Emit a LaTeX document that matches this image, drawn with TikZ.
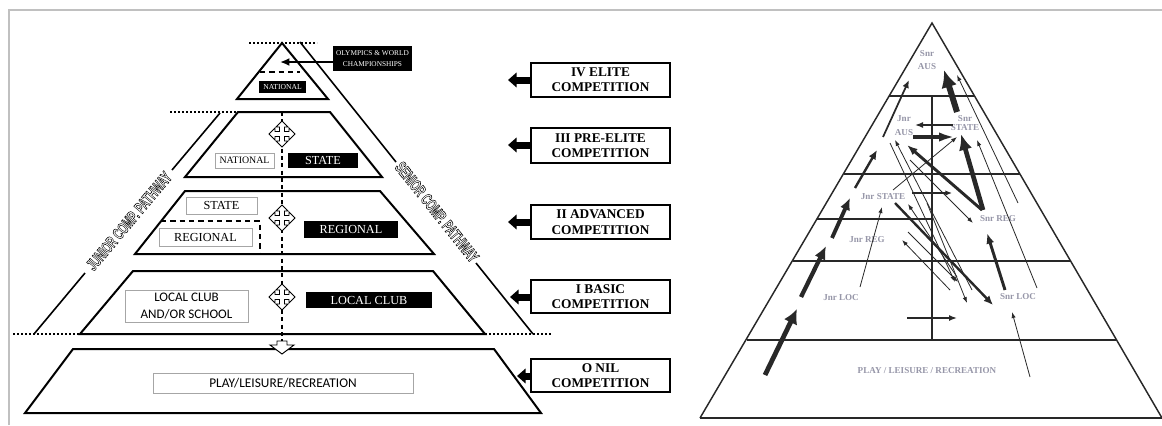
\documentclass[tikz,border=0pt]{standalone}
\usepackage{fontspec}
\usepackage{graphicx}
\setmainfont{Liberation Serif}
\newfontfamily\calib{Carlito}
\newfontfamily\arialf{Liberation Sans}
\usetikzlibrary{arrows.meta}
\definecolor{framegray}{RGB}{192,192,192}
\definecolor{lblgray}{RGB}{150,150,168}
\definecolor{rline}{RGB}{40,40,40}
\newcommand{\pathtxt}[1]{\scalebox{0.6}[1]{\arialf\bfseries\fontsize{12.5}{13}\selectfont\special{pdf:literal direct 0 G 2 Tr 0.45 w}#1\special{pdf:literal direct 0 Tr}}}
\tikzset{
  pyr/.style={line width=1.5pt, line join=miter},
  side/.style={line width=1.2pt},
  dotline/.style={line width=1.4pt, dash pattern=on 1.4pt off 1.6pt},
  cdash/.style={line width=0.9pt, dash pattern=on 3pt off 2.5pt},
  bx/.style 2 args={minimum width=#1*0.75pt, minimum height=#2*0.75pt},
  wbox/.style={draw=gray!70, line width=0.7pt, fill=white, inner sep=0pt, font=\fontsize{9.2}{10}\selectfont},
  bbox/.style={fill=black, text=white, inner sep=0pt, font=\fontsize{9.2}{10}\selectfont},
  compbox/.style={draw=black, line width=1.5pt, fill=white, inner sep=0pt, align=center, font=\bfseries\fontsize{10}{11.5}\selectfont},
  blockarr/.style={line width=5.25pt, -{Triangle[length=6.5pt, width=11pt]}},
  rlbl/.style={text=lblgray, inner sep=0pt, align=center, font=\bfseries\fontsize{6.8}{9.75}\selectfont},
  ar/.style n args={3}{draw=rline, line width=#1, -{Latex[length=#2, width=#3]}},
  thin/.style={draw=rline, line width=0.6pt, -{Latex[length=4.5pt, width=3.2pt]}},
  rhor/.style={draw=rline, line width=1.8pt},
  pathlbl/.style={text=white, inner sep=0pt},
  quad/.pic={\draw[fill=white, line width=0.6pt] (2.5,2.5) -- (7,2.5) -- (7,6) -- (13,0) -- (7,-6) -- (7,-2.5) -- (2.5,-2.5) -- (2.5,-7) -- (6,-7) -- (0,-13) -- (-6,-7) -- (-2.5,-7) -- (-2.5,-2.5) -- (-7,-2.5) -- (-7,-6) -- (-13,0) -- (-7,6) -- (-7,2.5) -- (-2.5,2.5) -- (-2.5,7) -- (-6,7) -- (0,13) -- (6,7) -- (2.5,7) -- cycle;}
}
\begin{document}
\begin{tikzpicture}[x=0.75pt,y=-0.75pt]
\useasboundingbox (0,0) rectangle (1162,425);
% frame
\draw[framegray, line width=1.5pt] (9,425) -- (9,10) -- (1162,10);

% ---------------- LEFT PYRAMID ----------------
\draw[dotline] (249,43) -- (317,43);
\draw[dotline] (170,112) -- (238,112);
\draw[dotline] (13,334) -- (551,334);

% pathway lines
\draw[side] (300,42) -- (396,162);
\draw[side] (476,263) -- (533,334);
\draw[side] (220,113) -- (172,170);
\draw[side] (85,273) -- (34,334);

% tiers
\draw[pyr, fill=white] (237,99) -- (282,43) -- (328,99) -- cycle;
\draw[line width=1pt, dash pattern=on 4pt off 3pt] (260,72) -- (300,72);
\draw[pyr] (238,112) -- (330,112) -- (382,177) -- (185,177) -- cycle;
\draw[pyr] (185,191) -- (380,191) -- (434,254) -- (135,254) -- cycle;
\draw[pyr] (133,271) -- (433,271) -- (485,334) -- (80,334) -- cycle;
\draw[pyr] (73,349) -- (494,349) -- (541,413) -- (25,413) -- cycle;

% central dashed line
\draw[cdash] (282,112) -- (282,341);
\draw[line width=1pt, dash pattern=on 4pt off 3pt] (161,221) -- (260,221) -- (260,254);

% four-way arrows
\pic at (282,134) {quad};
\pic at (282,218) {quad};
\pic at (282,297) {quad};
% down chevron
\draw[fill=white, line width=0.7pt] (277,341) -- (287,341) -- (287,345) -- (294,345) -- (282,354) -- (270,345) -- (277,345) -- cycle;

% pathway texts
\node[pathlbl, rotate=50] (junior) at (129,221) {\pathtxt{JUNIOR COMP. PATHWAY}};
\node[pathlbl, rotate=-51.4] (senior) at (437,212) {\pathtxt{SENIOR COMP. PATHWAY}};

% boxes
\node[bbox, bx={79}{25}, align=center, font=\fontsize{5.5}{8.5}\selectfont] (olym) at (372.5,58.5) {OLYMPICS \& WORLD\\CHAMPIONSHIPS};
\coordinate (olytip) at (280,62);
\draw[line width=1.5pt, -{Latex[length=7pt, width=6pt]}] (olym.west |- olytip) -- (olytip);
\node[bbox, bx={47}{12}, font=\fontsize{5.7}{7}\selectfont] (natb) at (282.5,87) {NATIONAL};

\node[wbox, bx={59}{15}, font=\fontsize{7.4}{8}\selectfont] (natw) at (244.5,160.5) {NATIONAL};
\node[bbox, bx={70}{15}] (stateb) at (323,160.5) {STATE};
\node[wbox, bx={71}{17}] (statew) at (221.5,205.5) {STATE};
\node[wbox, bx={93}{18}] (regw) at (205.5,237) {REGIONAL};
\node[bbox, bx={94}{17}] (regb) at (351,229.5) {REGIONAL};
\node[wbox, bx={123}{32}, align=center, font=\calib\fontsize{9.8}{12.5}\selectfont] (locw) at (186.5,306) {LOCAL CLUB\\AND/OR SCHOOL};
\node[bbox, bx={126}{16}] (locb) at (369,300) {LOCAL CLUB};
\node[wbox, bx={260}{20}, font=\calib\fontsize{10}{11}\selectfont] (play) at (283,383) {PLAY/LEISURE/RECREATION};

% competition boxes
\node[compbox, bx={139}{34}] (iv) at (600.5,80) {IV ELITE\\COMPETITION};
\node[compbox, bx={139}{35}] (iii) at (600.5,145.5) {III PRE-ELITE\\COMPETITION};
\node[compbox, bx={139}{34}] (ii) at (600.5,222) {II ADVANCED\\COMPETITION};
\node[compbox, bx={139}{33}] (i) at (600.5,296.5) {I BASIC\\COMPETITION};
\node[compbox, bx={139}{33}] (o) at (600.5,375.5) {O NIL\\COMPETITION};
\coordinate (ivt) at (508,80);
\coordinate (iiit) at (508,145);
\coordinate (iit) at (508,222);
\coordinate (it) at (510,297);
\coordinate (ot) at (517,376);
\draw[blockarr] (iv.west |- ivt) -- (ivt);
\draw[blockarr] (iii.west |- iiit) -- (iiit);
\draw[blockarr] (ii.west |- iit) -- (iit);
\draw[blockarr] (i.west |- it) -- (it);
\draw[blockarr] (o.west |- ot) -- (ot);

% ---------------- RIGHT PYRAMID ----------------
\draw[rline, line width=1.1pt] (700,418) -- (932,23) -- (1162,418);
\draw[rline, line width=1.4pt] (700,418) -- (1162,418);
\draw[rhor] (889,96) -- (975,96);
\draw[rhor] (844,174) -- (1020,174);
\draw[rhor] (817,219) -- (932,219);
\draw[rhor] (793,261) -- (1071,261);
\draw[rhor] (747,340) -- (1117,340);
\draw[rhor] (932,96) -- (932,340);

% labels
\node[rlbl] (snraus) at (927,60) {Snr\\AUS};
\node[rlbl, font=\bfseries\fontsize{6.8}{10.5}\selectfont] (jnraus) at (904,126) {Jnr\\AUS};
\node[rlbl, font=\bfseries\fontsize{6.8}{7.2}\selectfont] (snrstate) at (965,123) {Snr\\STATE};
\node[rlbl] (jnrstate) at (883,197) {Jnr STATE};
\node[rlbl] (jnrreg) at (867,240) {Jnr REG};
\node[rlbl] (snrreg) at (998,219) {Snr REG};
\node[rlbl] (jnrloc) at (841,298) {Jnr LOC};
\node[rlbl] (snrloc) at (1018,297) {Snr LOC};
\node[rlbl] (rplay) at (927,371) {PLAY / LEISURE / RECREATION};

% junior pathway arrows
\draw[ar={3.6pt}{11pt}{11pt}] (765,375) -- (797,309);
\draw[ar={3.2pt}{10pt}{9pt}] (801,297) -- (826,246);
\draw[ar={2.9pt}{9pt}{8pt}] (832,238) -- (850,198);
\draw[ar={1.8pt}{7pt}{6pt}] (855,188) -- (877,150);
\draw[ar={1.3pt}{6pt}{5pt}] (883,137) -- (909,80);
% senior pathway arrows
\draw[ar={2.2pt}{8pt}{6pt}] (1005,290) -- (987,233);
\draw[ar={3.5pt}{12pt}{10pt}] (983,210) -- (961,134);
\draw[ar={4.5pt}{13pt}{12pt}] (957,112) -- (944,70);
% horizontals
\draw[ar={1.1pt}{6pt}{4.5pt}] (953,125) -- (915,125);
\draw[ar={3pt}{12pt}{7pt}] (913,137) -- (955,137);
\draw[ar={0.9pt}{5pt}{4pt}] (912,193) -- (952,193);
\draw[ar={1.1pt}{6pt}{4.5pt}] (907,318) -- (957,318);
% diagonals
\draw[ar={2.2pt}{8pt}{6pt}] (982,210) -- (907,145);
\draw[ar={1.8pt}{7pt}{6pt}] (895,203) -- (993,305);
\draw[thin] (893,190) -- (957,137);
\draw[thin] (860,287) -- (882,207);
\draw[thin] (950,290) -- (902,240);
\draw[thin] (908,232) -- (958,282);
\draw[thin] (890,143) -- (955,282);
\draw[thin] (972,290) -- (895,140);
\draw[thin] (957,277) -- (908,204);
\draw[thin] (927,203) -- (967,303);
\draw[thin] (910,160) -- (973,223);
\draw[thin] (1030,377) -- (1012,312);
\draw[thin] (1018,203) -- (957,75);
\draw[thin] (1037,288) -- (977,140);
\end{tikzpicture}
\end{document}
